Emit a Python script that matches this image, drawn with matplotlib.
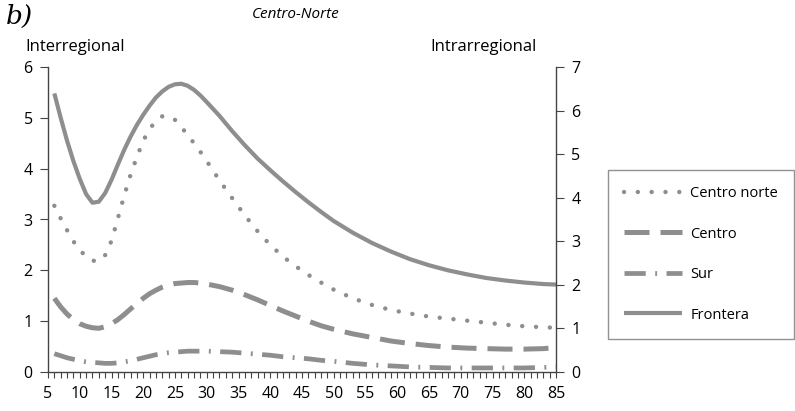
import matplotlib
matplotlib.use("Agg")
import matplotlib.pyplot as plt
from matplotlib.ticker import MultipleLocator

x = [6,7,8,9,10,11,12,13,14,15,16,17,18,19,20,21,22,23,24,25,26,27,28,29,30,
     32,34,36,38,40,42,44,46,48,50,53,56,59,62,65,68,71,74,77,80,83,85]

frontera = [5.48,5.0,4.55,4.15,3.8,3.5,3.33,3.35,3.52,3.78,4.08,4.37,4.63,4.86,5.06,5.24,5.4,5.52,5.61,5.66,5.67,5.63,5.55,5.44,5.31,
            5.04,4.74,4.46,4.2,3.97,3.75,3.54,3.34,3.15,2.97,2.74,2.54,2.37,2.22,2.1,2.0,1.92,1.85,1.8,1.76,1.73,1.72]
centro_norte = [3.27,3.02,2.79,2.57,2.4,2.27,2.19,2.18,2.3,2.58,3.02,3.47,3.88,4.23,4.55,4.78,4.94,5.03,5.03,4.96,4.82,4.66,4.5,4.33,4.15,
                3.77,3.42,3.08,2.77,2.5,2.27,2.08,1.91,1.76,1.62,1.45,1.32,1.22,1.15,1.09,1.05,1.01,0.97,0.93,0.9,0.88,0.87]
centro = [1.45,1.28,1.14,1.03,0.95,0.9,0.87,0.86,0.89,0.95,1.03,1.13,1.24,1.35,1.45,1.54,1.61,1.67,1.71,1.74,1.75,1.76,1.76,1.75,1.73,
          1.68,1.61,1.52,1.42,1.31,1.2,1.1,1.0,0.91,0.84,0.75,0.68,0.61,0.56,0.52,0.49,0.47,0.46,0.45,0.45,0.46,0.48]
sur = [0.36,0.32,0.28,0.25,0.22,0.2,0.19,0.18,0.17,0.17,0.18,0.2,0.22,0.25,0.28,0.31,0.34,0.36,0.38,0.39,0.4,0.41,0.41,0.41,0.41,
       0.4,0.39,0.37,0.35,0.33,0.3,0.28,0.26,0.23,0.21,0.17,0.14,0.12,0.1,0.09,0.08,0.08,0.08,0.08,0.08,0.09,0.1]

labels = ["Centro norte", "Centro", "Sur", "Frontera"]
x_ticks = list(range(5, 90, 5))
left_ticks = [0, 1, 2, 3, 4, 5, 6]
right_ticks = [0, 1, 2, 3, 4, 5, 6, 7]

FONT = "Open Sans"
plt.rcParams['font.family'] = [FONT, 'DejaVu Sans']
gray = "#8e8e8e"
axc = "#444444"

fig = plt.figure(figsize=(7.95, 4.11), dpi=100)
ax = fig.add_axes([48/795, 39/411, 508/795, 305/411])
ax2 = ax.twinx()

l1, = ax.plot(x, centro_norte, color=gray, lw=3.2, linestyle=(0, (0.01, 3.1)), dash_capstyle='round', solid_capstyle='round')
l2, = ax.plot(x, centro, color=gray, lw=3.6, linestyle=(0, (5, 2.2)))
l3, = ax.plot(x, sur, color=gray, lw=3.4, linestyle=(0, (4.5, 2.0, 0.4, 2.0)))
l4, = ax.plot(x, frontera, color=gray, lw=3.0, solid_capstyle='butt')

ax.set_xlim(5, 85)
ax.set_ylim(0, 6)
ax2.set_ylim(0, 7)
ax.set_xticks(x_ticks)
ax.set_xticklabels([str(t) for t in x_ticks])
ax.xaxis.set_minor_locator(MultipleLocator(1))
ax.set_yticks(left_ticks)
ax2.set_yticks(right_ticks)

for a in (ax, ax2):
    a.spines['top'].set_visible(False)
    for s in ('left', 'right', 'bottom'):
        a.spines[s].set_color(axc)
        a.spines[s].set_linewidth(1.0)
ax.spines['right'].set_visible(False)
ax2.spines['left'].set_visible(False)
ax2.spines['bottom'].set_visible(False)

ax.tick_params(axis='x', which='both', direction='out', length=4, width=0.8, color=axc, labelsize=11.5, pad=6)
ax.tick_params(axis='y', direction='out', length=6, width=0.8, color=axc, labelsize=11.5, pad=5)
ax2.tick_params(axis='y', direction='out', length=6, width=0.8, color=axc, labelsize=11.5, pad=5)

fig.text(6/795, 1 - 4/411, "b)", fontsize=19, style='italic', family='DejaVu Serif', va='top', ha='left')
fig.text(252/795, 1 - 15/411, "Centro-Norte", fontsize=11, style='italic', va='center', ha='left')
fig.text(25/795, 1 - 47/411, "Interregional", fontsize=12, va='center', ha='left')
fig.text(430/795, 1 - 47/411, "Intrarregional", fontsize=12, va='center', ha='left')

leg = fig.legend([l1, l2, l3, l4], labels, loc='upper left', bbox_to_anchor=(608/795, 1 - 170/411),
                 fontsize=10.5, frameon=True, fancybox=False, handlelength=4.0, labelspacing=1.75,
                 borderpad=1.1, handletextpad=0.55, borderaxespad=0)
leg.get_frame().set_edgecolor("#777777")
leg.get_frame().set_linewidth(1.0)

fig.savefig("out.png", dpi=100)
